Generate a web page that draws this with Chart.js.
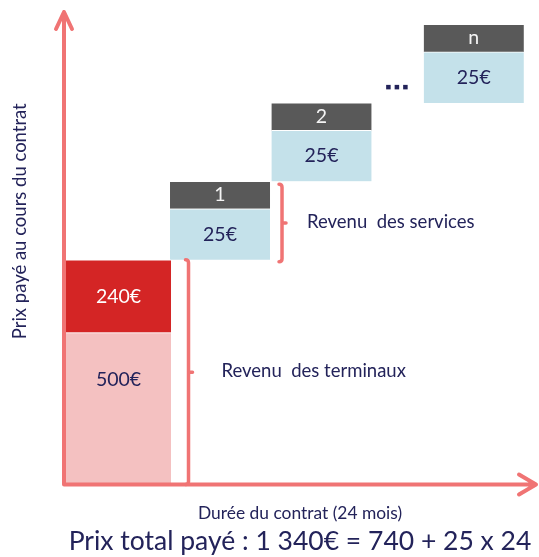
<!DOCTYPE html>
<html lang="fr">
<head>
<meta charset="utf-8">
<style>
  html, body { margin: 0; padding: 0; background: #fff; }
  #wrap { width: 539px; height: 557px; }
</style>
</head>
<body>
<div id="wrap"><canvas id="chart"></canvas></div>
<script src="https://cdn.jsdelivr.net/npm/chart.js@4/dist/chart.umd.min.js"></script>
<script>
// --- data ---
const terminalValues = [500, 240];          // paid part, then the subsidised part
const serviceMonths = ['1', '2', 'n'];
const serviceMonthPos = [1, 2, 3.5];        // schematic month position on the time axis
const serviceValues = [25, 25, 25];
const contractMonths = 24;

// --- styles ---
const FONT = 'Lato, "Open Sans", sans-serif';
const NAVY = '#23235a';
const AXIS_COLOR = '#f07474';
const PINK = '#f4c1c1';
const RED = '#d42525';
const BLUE = '#c4e1ea';
const GREY = '#595959';
const HEADER_H = 13.5;                      // height of the month band, in y2 units

const euro = v => `${v}€`;
const thousands = v => String(v).replace(/\B(?=(\d{3})+(?!\d))/g, ' ');

const terminalTotal = terminalValues.reduce((a, b) => a + b, 0);
const totalPrice = terminalTotal + serviceValues[0] * contractMonths;

// stacked steps for the monthly service boxes
const serviceBars = [];
const headerBars = [];
let base = 0;
serviceValues.forEach((v, i) => {
  serviceBars.push({ x: serviceMonthPos[i], y: [base, base + v] });
  headerBars.push({ x: serviceMonthPos[i], y: [base + v, base + v + HEADER_H] });
  base += v + HEADER_H;
});

const barCommon = {
  grouped: false,
  borderWidth: { top: 1, right: 0, bottom: 0, left: 0 },
  borderColor: '#ffffff',
  borderSkipped: false,
};

// text inside each bar
const barLabels = {
  id: 'barLabels',
  afterDatasetsDraw(chart) {
    const ctx = chart.ctx;
    ctx.save();
    ctx.textAlign = 'center';
    ctx.textBaseline = 'middle';
    ctx.font = `19.5px ${FONT}`;
    chart.data.datasets.forEach((ds, di) => {
      if (!ds.valueLabels) return;
      const meta = chart.getDatasetMeta(di);
      meta.data.forEach((el, i) => {
        ctx.fillStyle = ds.labelColor;
        const cy = (el.y + el.base) / 2 + (ds.labelShift || 0);
        ctx.fillText(ds.valueLabels[i], el.x, cy);
      });
    });
    ctx.restore();
  }
};

// arrows, braces and annotations
const decor = {
  id: 'decor',
  afterDatasetsDraw(chart) {
    const { ctx, chartArea: a } = chart;
    ctx.save();
    ctx.strokeStyle = AXIS_COLOR;
    ctx.lineCap = 'round';
    ctx.lineJoin = 'round';

    const brace = (x, top, bottom) => {
      const mid = (top + bottom) / 2;
      ctx.lineWidth = 3.5;
      ctx.beginPath();
      ctx.moveTo(x - 3, top);
      ctx.quadraticCurveTo(x, top, x, top + 3);
      ctx.lineTo(x, bottom - 3);
      ctx.quadraticCurveTo(x, bottom, x - 3, bottom);
      ctx.moveTo(x, mid);
      ctx.lineTo(x + 4, mid);
      ctx.stroke();
      return mid;
    };

    ctx.font = `18.5px ${FONT}`;
    ctx.fillStyle = NAVY;
    ctx.textAlign = 'left';
    ctx.textBaseline = 'middle';

    // terminal revenue
    const red = chart.getDatasetMeta(1).data[0];
    const tx = red.x + red.width / 2 + 17.5;
    const tMid = brace(tx, red.y, a.bottom);
    ctx.fillText('Revenu  des terminaux', tx + 33, tMid - 1);

    // service revenue, first month
    const blue = chart.getDatasetMeta(2).data[0];
    const head = chart.getDatasetMeta(3).data[0];
    const sx = blue.x + blue.width / 2 + 12;
    const sMid = brace(sx, head.y + 3, blue.base + 2);
    ctx.fillText('Revenu  des services', sx + 25, sMid - 1);

    // axes with arrow heads, over the bars and braces
    ctx.lineWidth = 4;
    ctx.beginPath();
    ctx.moveTo(a.left, a.bottom);
    ctx.lineTo(a.left, a.top);
    ctx.moveTo(a.left - 8, a.top + 17);
    ctx.lineTo(a.left, a.top);
    ctx.lineTo(a.left + 8, a.top + 17);
    ctx.moveTo(a.left, a.bottom);
    ctx.lineTo(a.right, a.bottom);
    ctx.moveTo(a.right - 17, a.bottom - 10);
    ctx.lineTo(a.right, a.bottom);
    ctx.lineTo(a.right - 17, a.bottom + 10);
    ctx.stroke();

    // ellipsis between month 2 and month n
    const h2 = chart.getDatasetMeta(3).data[1];
    const bn = chart.getDatasetMeta(2).data[2];
    const ex = (h2.x + h2.width / 2 + bn.x - bn.width / 2) / 2 - 1;
    const ey = bn.base - 16;
    for (let k = -1; k <= 1; k++) {
      ctx.fillRect(ex + k * 8.5 - 2, ey - 2, 4.5, 4.5);
    }

    // y axis title
    ctx.translate(a.left - 44, (a.top + a.bottom) / 2 - 27);
    ctx.rotate(-Math.PI / 2);
    ctx.textAlign = 'center';
    ctx.fillText('Prix payé au cours du contrat', 0, 0);
    ctx.restore();
  }
};

const ctx = document.getElementById('chart').getContext('2d');
new Chart(ctx, {
  type: 'bar',
  data: {
    datasets: [
      {
        ...barCommon,
        label: 'Terminal',
        data: [{ x: 0, y: [0, terminalValues[0]] }],
        backgroundColor: PINK,
        barThickness: 105,
        valueLabels: [euro(terminalValues[0])],
        labelColor: NAVY,
        labelShift: -29,
      },
      {
        ...barCommon,
        label: 'Subvention',
        data: [{ x: 0, y: [terminalValues[0], terminalTotal] }],
        backgroundColor: RED,
        barThickness: 105,
        valueLabels: [euro(terminalValues[1])],
        labelColor: '#ffffff',
      },
      {
        ...barCommon,
        label: 'Services',
        yAxisID: 'y2',
        data: serviceBars,
        backgroundColor: BLUE,
        barThickness: 100,
        valueLabels: serviceValues.map(euro),
        labelColor: NAVY,
      },
      {
        ...barCommon,
        label: 'Mois',
        yAxisID: 'y2',
        data: headerBars,
        backgroundColor: GREY,
        barThickness: 100,
        valueLabels: serviceMonths,
        labelColor: '#f4f4f4',
      },
    ],
  },
  options: {
    responsive: true,
    maintainAspectRatio: false,
    animation: false,
    layout: { padding: { top: 12, right: 3, left: 0, bottom: 0 } },
    plugins: {
      legend: { display: false },
      tooltip: { enabled: false },
      title: {
        display: true,
        position: 'bottom',
        fullSize: false,
        text: `Prix total payé : ${thousands(totalPrice)}€ = ${terminalTotal} + ${serviceValues[0]} x ${contractMonths}`,
        color: NAVY,
        font: { family: FONT, size: 26.5, weight: 'normal' },
        padding: { top: 1.3, bottom: 0 },
      },
    },
    scales: {
      x: {
        type: 'linear',
        offset: false,
        bounds: 'data',
        min: -0.537,
        max: 4.113,
        grid: { display: false, drawTicks: false },
        border: { display: false },
        ticks: { display: false },
        title: {
          display: true,
          text: `Durée du contrat (${contractMonths} mois)`,
          color: NAVY,
          font: { family: FONT, size: 17.4 },
          padding: { top: 18.5, bottom: 0 },
        },
      },
      y: {
        min: 0,
        max: 1556,
        bounds: 'data',
        grid: { display: false, drawTicks: false },
        border: { display: false },
        ticks: { display: false },
        afterFit(scale) { scale.width = 64; },
      },
      y2: {
        display: false,
        position: 'right',
        min: -110.3,
        max: 121.6,
        bounds: 'data',
      },
    },
  },
  plugins: [barLabels, decor],
});
</script>
</body>
</html>
